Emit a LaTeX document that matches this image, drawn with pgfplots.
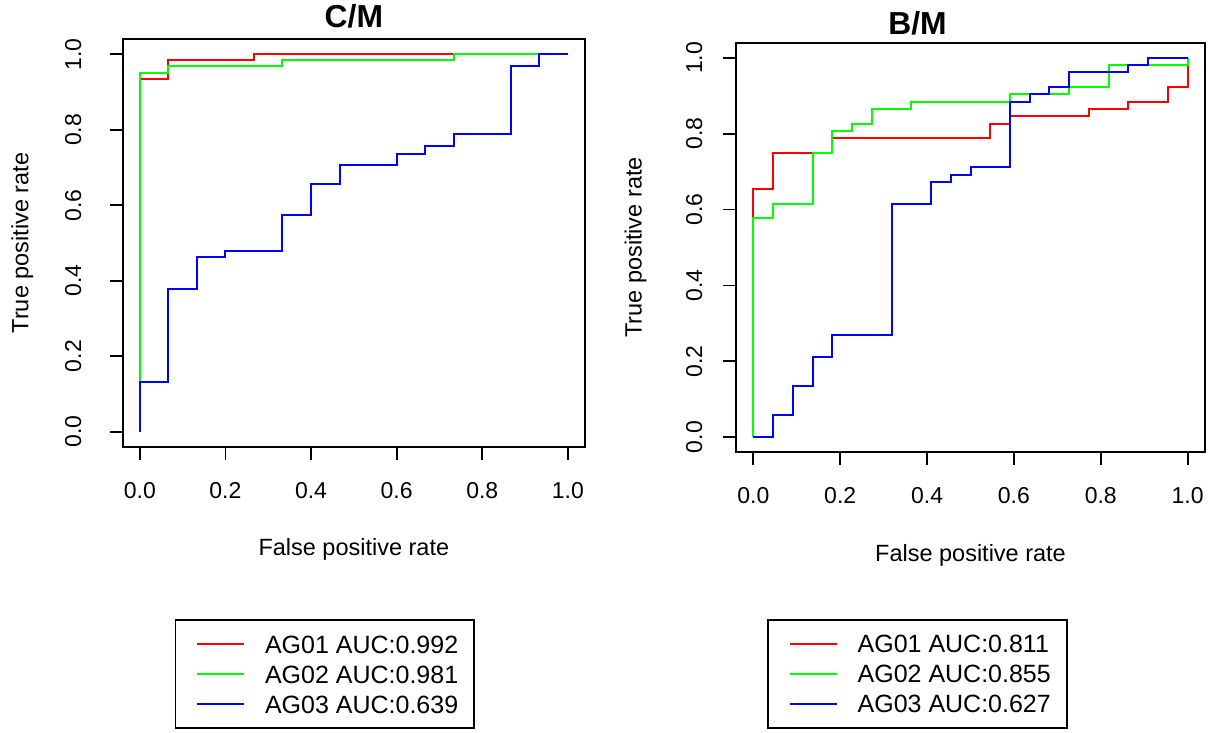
\documentclass[border=0pt]{standalone}
\usepackage{fontspec}
\setmainfont{Liberation Sans}
\usepackage{pgfplots}
\pgfplotsset{compat=1.18}

% shared look of both ROC panels (R base graphics style)
\pgfplotsset{
  roc/.style={
    scale only axis,
    xmin=-0.04, xmax=1.04, ymin=-0.04, ymax=1.04,
    xtick={0,0.2,0.4,0.6,0.8,1}, ytick={0,0.2,0.4,0.6,0.8,1},
    tick align=outside, xtick pos=lower, ytick pos=left,
    major tick length=6.5pt,
    axis line style={line width=0.9pt},
    tick style={black, line width=0.9pt},
    /pgf/number format/fixed, /pgf/number format/fixed zerofill,
    /pgf/number format/precision=1, /pgf/number format/assume math mode=true,
    xticklabel style={font=\fontsize{11.5}{13}\selectfont, anchor=base, yshift=-19.2pt},
    xlabel={False positive rate}, ylabel={True positive rate},
    label style={font=\fontsize{11.75}{14}\selectfont},
    xlabel style={at={([yshift=-54.65pt]axis description cs:0.5,0)}, anchor=base},
    ylabel style={at={([xshift=-47.15pt]axis description cs:0,0.5)}, anchor=base},
    every axis title/.style={font=\bfseries\fontsize{15.9}{18}\selectfont, anchor=base},
    every axis plot/.append style={line width=1pt, const plot},
    legend cell align=left,
    legend image code/.code={\path (-2.15pt,0pt); \draw[#1, line width=0.75pt] (0pt,0pt) -- (23.5pt,0pt);},
    legend style={draw=black, line width=0.9pt, inner xsep=8pt, inner ysep=7.5pt,
      row sep=6pt, column sep=10.2pt, font=\fontsize{12.5}{15}\selectfont,
      nodes={inner sep=0pt, text height=9pt, text depth=0pt}, anchor=north west},
  }
}

\begin{document}
\begin{tikzpicture}
\path[use as bounding box] (0,0) rectangle (606pt,366.5pt);

% C/M
\begin{axis}[roc, at={(61.35pt,143.15pt)}, anchor=south west,
  width=231.15pt, height=203.7pt,
  yticklabel style={font=\fontsize{11.5}{13}\selectfont, xshift=-14.3pt, rotate=90, anchor=base},
  title={C/M}, title style={at={([yshift=5.65pt]axis description cs:0.5,1)}},
  legend style={at={([xshift=26pt,yshift=-86.3pt]axis description cs:0,0)}}]
\addplot[red] coordinates {(0,0) (0,0.935) (0.0667,0.984) (0.2667,1) (1,1)};
\addplot[green] coordinates {(0,0) (0,0.951) (0.0667,0.968) (0.3333,0.984) (0.7333,1) (1,1)};
\addplot[blue] coordinates {(0,0) (0,0.132) (0.0667,0.379) (0.1333,0.4625) (0.2,0.479)
  (0.3333,0.5746) (0.4,0.6575) (0.4667,0.706) (0.6,0.737) (0.6667,0.757)
  (0.7333,0.788) (0.8667,0.968) (0.9333,1) (1,1)};
\legend{AG01 AUC:0.992, AG02 AUC:0.981, AG03 AUC:0.639}
\end{axis}

% B/M
\begin{axis}[roc, at={(368pt,140.35pt)}, anchor=south west,
  width=234.5pt, height=204.8pt,
  yticklabel style={font=\fontsize{11.5}{13}\selectfont, xshift=-10.5pt, rotate=90, anchor=base},
  title={B/M}, title style={at={([yshift=3.85pt]axis description cs:0.387,1)}},
  legend style={at={([xshift=15.65pt,yshift=-83.35pt]axis description cs:0,0)}}]
\addplot[red] coordinates {(0,0) (0,0.6538) (0.0455,0.75) (0.1818,0.7885) (0.5455,0.8269)
  (0.5909,0.8462) (0.7727,0.8654) (0.8636,0.8846) (0.9545,0.9231) (1,0.9808) (1,1)};
\addplot[green] coordinates {(0,0) (0,0.5769) (0.0455,0.6154) (0.1364,0.75) (0.1818,0.8077)
  (0.2273,0.8269) (0.2727,0.8654) (0.3636,0.8846) (0.5909,0.9038) (0.7273,0.9231)
  (0.8182,0.9808) (1,1)};
\addplot[blue] coordinates {(0,0) (0.0455,0.0577) (0.0909,0.1346) (0.1364,0.2115)
  (0.1818,0.2692) (0.3182,0.6154) (0.4091,0.6731) (0.4545,0.6923) (0.5,0.7115)
  (0.5909,0.8846) (0.6364,0.9038) (0.6818,0.9231) (0.7273,0.9615) (0.8636,0.9808)
  (0.9091,1) (1,1)};
\legend{AG01 AUC:0.811, AG02 AUC:0.855, AG03 AUC:0.627}
\end{axis}
\end{tikzpicture}
\end{document}
